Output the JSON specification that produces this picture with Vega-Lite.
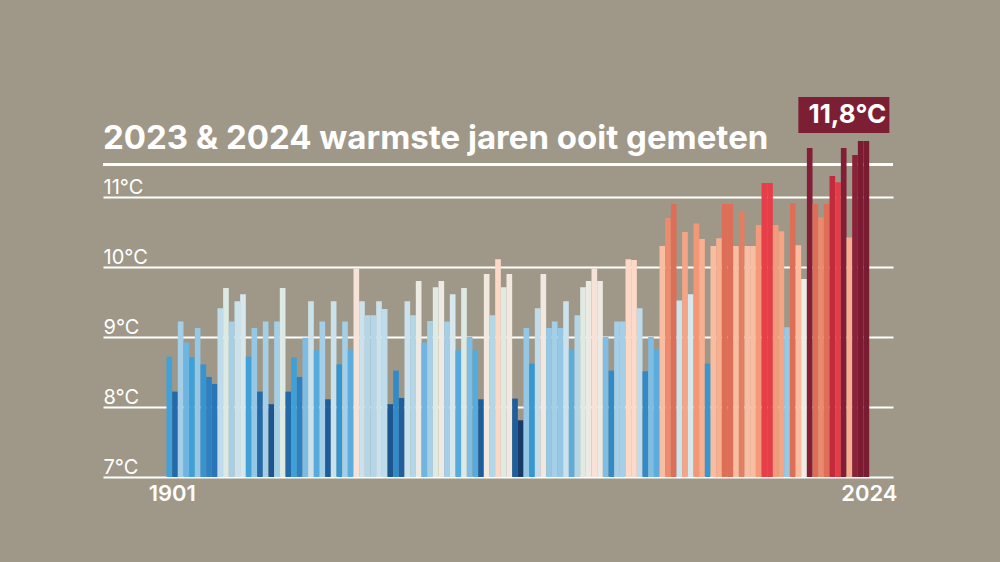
{
  "$schema": "https://vega.github.io/schema/vega-lite/v6.json",
  "width": 790,
  "height": 385,
  "autosize": {"type": "none"},
  "padding": {"left": 103, "top": 92, "right": 107, "bottom": 85},
  "background": "#9f9888",
  "title": {
    "text": "2023 & 2024 warmste jaren ooit gemeten",
    "anchor": "start",
    "frame": "group",
    "orient": "top",
    "offset": -90,
    "baseline": "alphabetic",
    "font": "Inter",
    "fontSize": 33,
    "fontWeight": 700,
    "color": "#ffffff"
  },
  "config": {
    "view": {"stroke": null},
    "axis": {"labelFont": "Inter", "labelColor": "#ffffff"}
  },
  "data": {
    "values": [
      {"jaar": 1901, "temperatuur": 8.72}, {"jaar": 1902, "temperatuur": 8.22}, {"jaar": 1903, "temperatuur": 9.22}, {"jaar": 1904, "temperatuur": 8.92},
      {"jaar": 1905, "temperatuur": 8.71}, {"jaar": 1906, "temperatuur": 9.13}, {"jaar": 1907, "temperatuur": 8.61}, {"jaar": 1908, "temperatuur": 8.43},
      {"jaar": 1909, "temperatuur": 8.33}, {"jaar": 1910, "temperatuur": 9.41}, {"jaar": 1911, "temperatuur": 9.70}, {"jaar": 1912, "temperatuur": 9.22},
      {"jaar": 1913, "temperatuur": 9.51}, {"jaar": 1914, "temperatuur": 9.61}, {"jaar": 1915, "temperatuur": 8.72}, {"jaar": 1916, "temperatuur": 9.13},
      {"jaar": 1917, "temperatuur": 8.22}, {"jaar": 1918, "temperatuur": 9.22}, {"jaar": 1919, "temperatuur": 8.04}, {"jaar": 1920, "temperatuur": 9.22},
      {"jaar": 1921, "temperatuur": 9.70}, {"jaar": 1922, "temperatuur": 8.22}, {"jaar": 1923, "temperatuur": 8.71}, {"jaar": 1924, "temperatuur": 8.43},
      {"jaar": 1925, "temperatuur": 8.99}, {"jaar": 1926, "temperatuur": 9.51}, {"jaar": 1927, "temperatuur": 8.81}, {"jaar": 1928, "temperatuur": 9.22},
      {"jaar": 1929, "temperatuur": 8.11}, {"jaar": 1930, "temperatuur": 9.51}, {"jaar": 1931, "temperatuur": 8.61}, {"jaar": 1932, "temperatuur": 9.22},
      {"jaar": 1933, "temperatuur": 8.83}, {"jaar": 1934, "temperatuur": 9.98}, {"jaar": 1935, "temperatuur": 9.51}, {"jaar": 1936, "temperatuur": 9.31},
      {"jaar": 1937, "temperatuur": 9.31}, {"jaar": 1938, "temperatuur": 9.51}, {"jaar": 1939, "temperatuur": 9.40}, {"jaar": 1940, "temperatuur": 8.04},
      {"jaar": 1941, "temperatuur": 8.52}, {"jaar": 1942, "temperatuur": 8.13}, {"jaar": 1943, "temperatuur": 9.51}, {"jaar": 1944, "temperatuur": 9.31},
      {"jaar": 1945, "temperatuur": 9.80}, {"jaar": 1946, "temperatuur": 8.92}, {"jaar": 1947, "temperatuur": 9.23}, {"jaar": 1948, "temperatuur": 9.71},
      {"jaar": 1949, "temperatuur": 9.80}, {"jaar": 1950, "temperatuur": 9.22}, {"jaar": 1951, "temperatuur": 9.61}, {"jaar": 1952, "temperatuur": 8.81},
      {"jaar": 1953, "temperatuur": 9.70}, {"jaar": 1954, "temperatuur": 9.00}, {"jaar": 1955, "temperatuur": 8.81}, {"jaar": 1956, "temperatuur": 8.11},
      {"jaar": 1957, "temperatuur": 9.90}, {"jaar": 1958, "temperatuur": 9.31}, {"jaar": 1959, "temperatuur": 10.11}, {"jaar": 1960, "temperatuur": 9.71},
      {"jaar": 1961, "temperatuur": 9.90}, {"jaar": 1962, "temperatuur": 8.12}, {"jaar": 1963, "temperatuur": 7.81}, {"jaar": 1964, "temperatuur": 9.13},
      {"jaar": 1965, "temperatuur": 8.62}, {"jaar": 1966, "temperatuur": 9.41}, {"jaar": 1967, "temperatuur": 9.90}, {"jaar": 1968, "temperatuur": 9.13},
      {"jaar": 1969, "temperatuur": 9.22}, {"jaar": 1970, "temperatuur": 9.13}, {"jaar": 1971, "temperatuur": 9.51}, {"jaar": 1972, "temperatuur": 8.83},
      {"jaar": 1973, "temperatuur": 9.31}, {"jaar": 1974, "temperatuur": 9.71}, {"jaar": 1975, "temperatuur": 9.80}, {"jaar": 1976, "temperatuur": 9.98},
      {"jaar": 1977, "temperatuur": 9.80}, {"jaar": 1978, "temperatuur": 9.00}, {"jaar": 1979, "temperatuur": 8.52}, {"jaar": 1980, "temperatuur": 9.22},
      {"jaar": 1981, "temperatuur": 9.22}, {"jaar": 1982, "temperatuur": 10.11}, {"jaar": 1983, "temperatuur": 10.10}, {"jaar": 1984, "temperatuur": 9.41},
      {"jaar": 1985, "temperatuur": 8.51}, {"jaar": 1986, "temperatuur": 9.00}, {"jaar": 1987, "temperatuur": 8.83}, {"jaar": 1988, "temperatuur": 10.30},
      {"jaar": 1989, "temperatuur": 10.70}, {"jaar": 1990, "temperatuur": 10.90}, {"jaar": 1991, "temperatuur": 9.52}, {"jaar": 1992, "temperatuur": 10.50},
      {"jaar": 1993, "temperatuur": 9.61}, {"jaar": 1994, "temperatuur": 10.62}, {"jaar": 1995, "temperatuur": 10.40}, {"jaar": 1996, "temperatuur": 8.62},
      {"jaar": 1997, "temperatuur": 10.30}, {"jaar": 1998, "temperatuur": 10.41}, {"jaar": 1999, "temperatuur": 10.90}, {"jaar": 2000, "temperatuur": 10.90},
      {"jaar": 2001, "temperatuur": 10.30}, {"jaar": 2002, "temperatuur": 10.80}, {"jaar": 2003, "temperatuur": 10.30}, {"jaar": 2004, "temperatuur": 10.30},
      {"jaar": 2005, "temperatuur": 10.60}, {"jaar": 2006, "temperatuur": 11.20}, {"jaar": 2007, "temperatuur": 11.20}, {"jaar": 2008, "temperatuur": 10.60},
      {"jaar": 2009, "temperatuur": 10.51}, {"jaar": 2010, "temperatuur": 9.14}, {"jaar": 2011, "temperatuur": 10.91}, {"jaar": 2012, "temperatuur": 10.31},
      {"jaar": 2013, "temperatuur": 9.83}, {"jaar": 2014, "temperatuur": 11.70}, {"jaar": 2015, "temperatuur": 10.90}, {"jaar": 2016, "temperatuur": 10.71},
      {"jaar": 2017, "temperatuur": 10.90}, {"jaar": 2018, "temperatuur": 11.30}, {"jaar": 2019, "temperatuur": 11.21}, {"jaar": 2020, "temperatuur": 11.70},
      {"jaar": 2021, "temperatuur": 10.42}, {"jaar": 2022, "temperatuur": 11.60}, {"jaar": 2023, "temperatuur": 11.80}, {"jaar": 2024, "temperatuur": 11.80}
    ]
  },
  "layer": [
    {
      "mark": {"type": "rule", "color": "#ffffff", "strokeWidth": 2},
      "encoding": {"y": {"datum": 11.46, "type": "quantitative"}}
    },
    {
      "mark": {"type": "bar", "strokeWidth": 0},
      "encoding": {
        "x": {
          "field": "jaar",
          "type": "ordinal",
          "scale": {
            "type": "band",
            "paddingInner": 0,
            "paddingOuter": 0.2,
            "align": 0.5,
            "domain": [1890, 1891, 1892, 1893, 1894, 1895, 1896, 1897, 1898, 1899, 1900,
              1901, 1902, 1903, 1904, 1905, 1906, 1907, 1908, 1909, 1910, 1911, 1912, 1913, 1914, 1915, 1916, 1917, 1918, 1919, 1920,
              1921, 1922, 1923, 1924, 1925, 1926, 1927, 1928, 1929, 1930, 1931, 1932, 1933, 1934, 1935, 1936, 1937, 1938, 1939, 1940,
              1941, 1942, 1943, 1944, 1945, 1946, 1947, 1948, 1949, 1950, 1951, 1952, 1953, 1954, 1955, 1956, 1957, 1958, 1959, 1960,
              1961, 1962, 1963, 1964, 1965, 1966, 1967, 1968, 1969, 1970, 1971, 1972, 1973, 1974, 1975, 1976, 1977, 1978, 1979, 1980,
              1981, 1982, 1983, 1984, 1985, 1986, 1987, 1988, 1989, 1990, 1991, 1992, 1993, 1994, 1995, 1996, 1997, 1998, 1999, 2000,
              2001, 2002, 2003, 2004, 2005, 2006, 2007, 2008, 2009, 2010, 2011, 2012, 2013, 2014, 2015, 2016, 2017, 2018, 2019, 2020,
              2021, 2022, 2023, 2024, 2025, 2026, 2027, 2028]
          },
          "axis": {
            "title": null,
            "ticks": false,
            "tickSize": 0,
            "domain": false,
            "grid": false,
            "labelAngle": 0,
            "labelOverlap": false,
            "labelExpr": "datum.value == 1901 || datum.value == 2024 ? datum.value : ''",
            "labelFontSize": 22,
            "labelFontWeight": 600,
            "labelBaseline": "alphabetic",
            "labelPadding": 23,
            "labelOffset": 3
          }
        },
        "y": {
          "field": "temperatuur",
          "type": "quantitative",
          "scale": {"domain": [7, 12.5], "zero": false, "nice": false},
          "axis": {
            "title": null,
            "values": [7, 8, 9, 10, 11],
            "ticks": false,
            "tickSize": 0,
            "domain": false,
            "grid": true,
            "gridColor": "#ffffff",
            "gridWidth": 2,
            "gridOpacity": 1,
            "labelExpr": "datum.value + '°C'",
            "labelAlign": "left",
            "labelBaseline": "alphabetic",
            "labelPadding": 0,
            "labelOffset": -4,
            "labelFontSize": 20
          }
        },
        "y2": {"datum": 7},
        "color": {
          "field": "temperatuur",
          "type": "quantitative",
          "legend": null,
          "scale": {
            "domain": [7.8, 8.1, 8.4, 8.7, 9.0, 9.3, 9.6, 9.85, 10.1, 10.35, 10.6, 10.9, 11.2, 11.3, 11.6, 11.8],
            "range": ["#183a66", "#1d5c9a", "#2e7dbe", "#3aa0d8", "#7fbde3", "#b3d6e8", "#d6e7ee", "#f0ebe7", "#fcd9c9", "#f8b698", "#f39a7a", "#dd6f59", "#e63f4a", "#c32b3d", "#8a2139", "#7a1b32"]
          }
        }
      }
    },
    {
      "data": {"values": [{"jaar": 2024, "temperatuur": 11.8, "tekst": "11,8°C"}]},
      "mark": {"type": "point", "shape": "M-1.36,-0.88H0.46V-0.16H-1.36Z", "size": 10000, "filled": true, "fill": "#7c1f35", "opacity": 1, "strokeWidth": 0},
      "encoding": {
        "x": {"field": "jaar", "type": "ordinal"},
        "y": {"field": "temperatuur", "type": "quantitative"}
      }
    },
    {
      "data": {"values": [{"jaar": 2024, "temperatuur": 11.8, "tekst": "11,8°C"}]},
      "mark": {"type": "text", "font": "Inter", "fontSize": 26, "fontWeight": 700, "color": "#ffffff", "align": "center", "baseline": "alphabetic", "dx": -19, "dy": -18},
      "encoding": {
        "x": {"field": "jaar", "type": "ordinal"},
        "y": {"field": "temperatuur", "type": "quantitative"},
        "text": {"field": "tekst"}
      }
    }
  ]
}
